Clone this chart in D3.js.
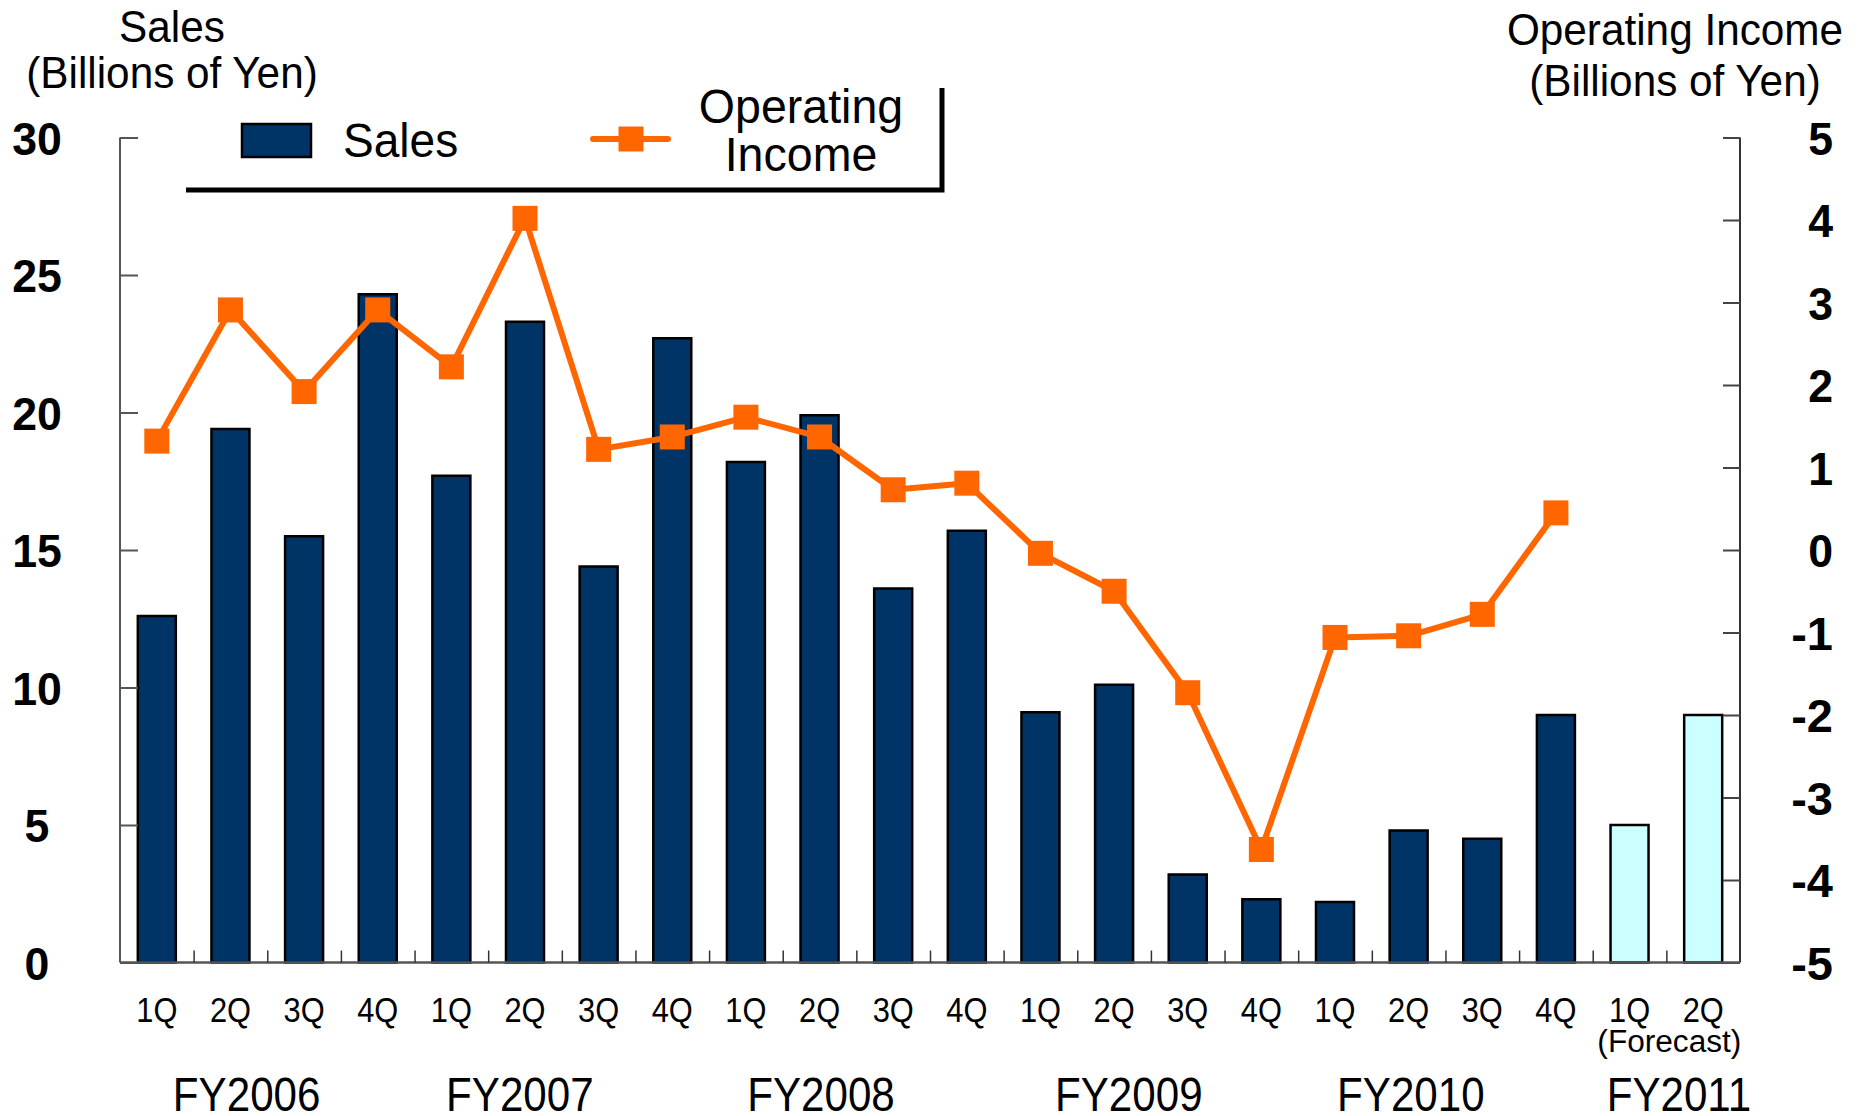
<!DOCTYPE html>
<html>
<head>
<meta charset="utf-8">
<script src="https://d3js.org/d3.v7.min.js"></script>
<style>
  html, body { margin: 0; padding: 0; background: #fff; }
  svg { display: block; font-family: "Liberation Sans", Arial, sans-serif; }
</style>
</head>
<body>
<script>
// chart data
const quarters = ["1Q","2Q","3Q","4Q","1Q","2Q","3Q","4Q","1Q","2Q","3Q","4Q",
                  "1Q","2Q","3Q","4Q","1Q","2Q","3Q","4Q","1Q","2Q"]
const sales = [12.6, 19.4, 15.5, 24.3, 17.7, 23.3, 14.4, 22.7, 18.2, 19.9, 13.6, 15.7,
               9.1, 10.1, 3.2, 2.3, 2.2, 4.8, 4.5, 9.0, 5.0, 9.0]
const isForecast = [false, false, false, false, false, false, false, false, false, false, false,
                    false, false, false, false, false, false, false, false, false, true, true]
const opIncome = [1.32, 2.91, 1.92, 2.91, 2.22, 4.02, 1.22, 1.37, 1.61, 1.37, 0.73, 0.81,
                  -0.04, -0.50, -1.73, -3.63, -1.06, -1.04, -0.78, 0.45]
const fiscalYears = ["FY2006", "FY2007", "FY2008", "FY2009", "FY2010", "FY2011"]
const salesTicks = [0, 5, 10, 15, 20, 25, 30]
const incomeTicks = [-5, -4, -3, -2, -1, 0, 1, 2, 3, 4, 5]

// layout
const W = 1863, H = 1116
const plotL = 120, plotR = 1740, plotT = 137.5, plotB = 962.5
const fyAt = [1.72, 5.43, 9.52, 13.7, 17.53, 21.17]   // label centres, in category slots

const navy = "#003366", cyan = "#CCFFFF", orange = "#FF6600", axisCol = "#555"

let svg = d3.select("body").append("svg")
    .attr("width", W)
    .attr("height", H)

let x = d3.scaleBand()
    .domain(d3.range(quarters.length))
    .range([plotL, plotR])
    .paddingInner(0.484)
    .paddingOuter(0.242)
let slot = d3.scaleLinear().domain([0, quarters.length]).range([plotL, plotR])
let y = d3.scaleLinear().domain([0, 30]).range([plotB, plotT])
let y2 = d3.scaleLinear().domain([-5, 5]).range([plotB, plotT])

// text helper: squeezes glyphs horizontally like the original
function txt(str, px, py, size, sx, anchor, weight) {
  return svg.append("text")
    .attr("transform", `translate(${px},${py}) scale(${sx},1)`)
    .attr("text-anchor", anchor || "middle")
    .style("font-size", size + "px")
    .style("font-weight", weight || "normal")
    .style("fill", "#000")
    .text(str)
}

//bars
svg.append("g").selectAll("rect")
    .data(sales)
    .join("rect")
    .attr("x", (d, i) => x(i))
    .attr("y", d => y(d))
    .attr("width", x.bandwidth())
    .attr("height", d => plotB - y(d))
    .style("fill", (d, i) => isForecast[i] ? cyan : navy)
    .style("stroke", "#000")
    .style("stroke-width", 2.5)

//left axis
let yAxis = d3.axisRight(y).tickValues(salesTicks).tickSize(18).tickFormat("")
let gl = svg.append("g").attr("transform", `translate(${plotL},0)`).call(yAxis)
gl.select(".domain").attr("d", `M0,${plotT}V${plotB}`).style("stroke", axisCol).style("stroke-width", 2)
gl.selectAll(".tick line").style("stroke", axisCol).style("stroke-width", 2)
salesTicks.forEach(t => txt(t, 37, y(t) + 17, 47, 0.95, "middle", "bold"))

//right axis
let y2Axis = d3.axisLeft(y2).tickValues(incomeTicks).tickSize(17).tickFormat("")
let gr = svg.append("g").attr("transform", `translate(${plotR},0)`).call(y2Axis)
gr.select(".domain").attr("d", `M0,${plotT}V${plotB}`).style("stroke", "#333").style("stroke-width", 2)
gr.selectAll(".tick line").style("stroke", "#444").style("stroke-width", 2)
incomeTicks.forEach(t => txt(t, 1833, y2(t) + 17, 47, t < 0 ? 1.0 : 0.95, "end", "bold"))

//bottom axis
let xAxis = d3.axisTop(slot).tickValues(d3.range(1, quarters.length)).tickSize(12).tickFormat("")
let gb = svg.append("g").attr("transform", `translate(0,${plotB})`).call(xAxis)
gb.select(".domain").attr("d", `M${plotL},0H${plotR}`).style("stroke", axisCol).style("stroke-width", 2.5)
gb.selectAll(".tick line").style("stroke", "#333").style("stroke-width", 1.5)

quarters.forEach((q, i) => txt(q, x(i) + x.bandwidth() / 2, 1022, 35, 0.88))
txt("(Forecast)", (x(20) + x(21) + x.bandwidth()) / 2 + 3, 1052, 31, 1.02)
fiscalYears.forEach((f, i) => txt(f, slot(fyAt[i]), 1111, 49, 0.86))

//operating income line
let line = d3.line().x((d, i) => x(i) + x.bandwidth() / 2).y(d => y2(d))
svg.append("path")
    .datum(opIncome)
    .attr("d", line)
    .style("fill", "none")
    .style("stroke", orange)
    .style("stroke-width", 6)
    .style("stroke-linejoin", "round")
svg.append("g").selectAll("rect")
    .data(opIncome)
    .join("rect")
    .attr("x", (d, i) => x(i) + x.bandwidth() / 2 - 12.5)
    .attr("y", d => y2(d) - 12.5)
    .attr("width", 25)
    .attr("height", 25)
    .style("fill", orange)

//axis titles
txt("Sales", 172, 42, 45, 0.94)
txt("(Billions of Yen)", 172, 88, 45, 0.94)
txt("Operating Income", 1675, 45, 45, 0.94)
txt("(Billions of Yen)", 1675, 96, 45, 0.94)

//legend
svg.append("path")
    .attr("d", "M186,190 H942 V88")
    .style("fill", "none")
    .style("stroke", "#000")
    .style("stroke-width", 5)
svg.append("rect")
    .attr("x", 242).attr("y", 124)
    .attr("width", 69).attr("height", 33)
    .style("fill", navy)
    .style("stroke", "#000")
    .style("stroke-width", 2.5)
txt("Sales", 343, 157, 48, 0.96, "start")
svg.append("line")
    .attr("x1", 593).attr("x2", 668)
    .attr("y1", 139).attr("y2", 139)
    .style("stroke", orange)
    .style("stroke-width", 6)
    .style("stroke-linecap", "round")
svg.append("rect")
    .attr("x", 631 - 12.5).attr("y", 139 - 12.5)
    .attr("width", 25).attr("height", 25)
    .style("fill", orange)
txt("Operating", 801, 123, 49, 0.95)
txt("Income", 801, 171, 49, 0.95)
</script>
</body>
</html>
